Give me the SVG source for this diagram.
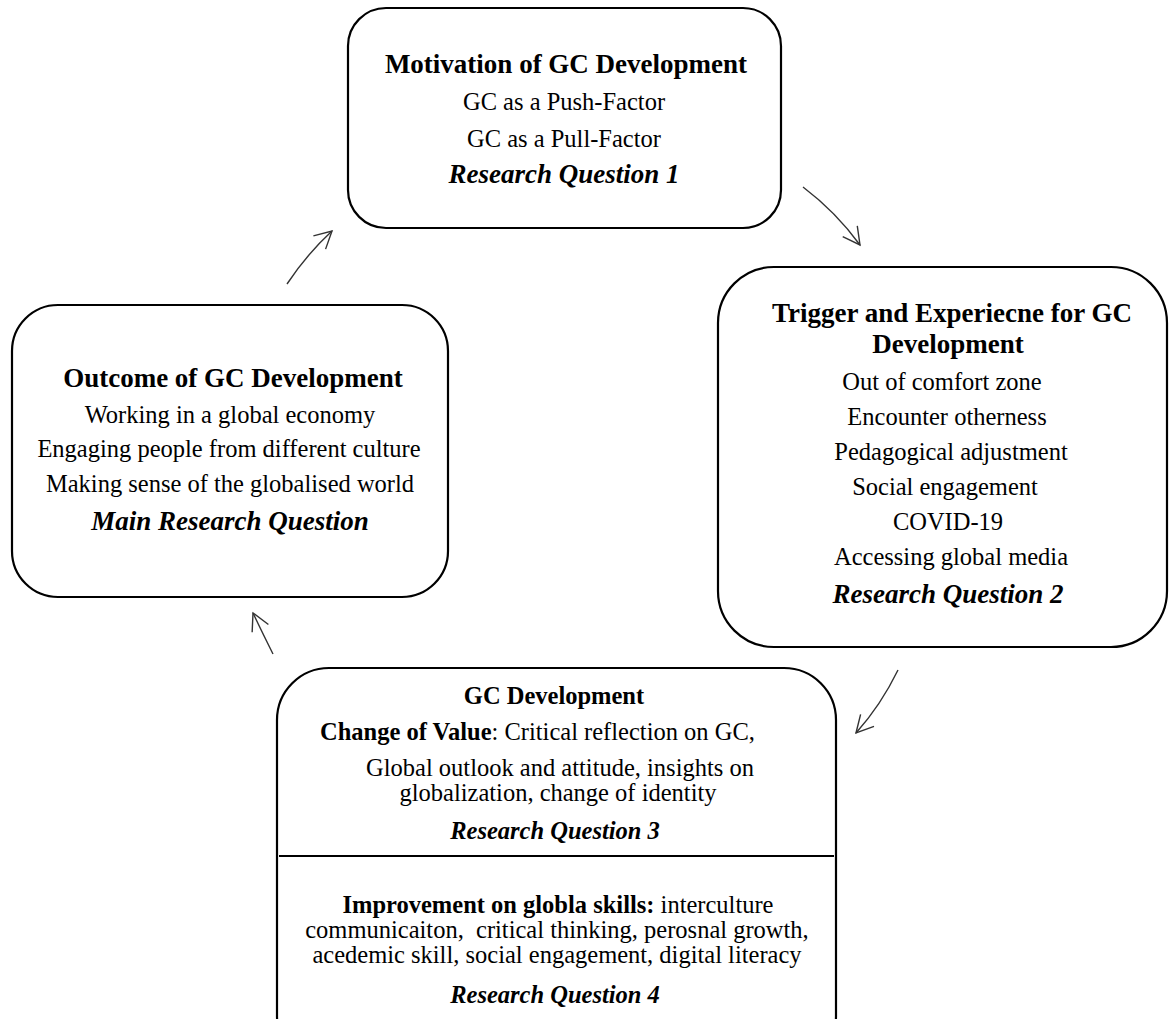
<svg xmlns="http://www.w3.org/2000/svg" width="1169" height="1019" viewBox="0 0 1169 1019">
<defs>
<style>
.box{fill:#fff;stroke:#000;stroke-width:2.2}
text{font-family:"Liberation Serif","Times New Roman",serif;fill:#000;text-anchor:middle}
.t{font-size:27px;font-weight:bold}
.r{font-size:24.5px}
.q{font-size:27px;font-weight:bold;font-style:italic}
.tb{font-size:24.5px;font-weight:bold}
.qb{font-size:24.5px;font-weight:bold;font-style:italic}
.b{font-weight:bold}
.conn{fill:none;stroke:#333;stroke-width:1.4}
</style>
<marker id="arr" viewBox="0 0 20 20" refX="18" refY="10" markerWidth="20" markerHeight="20" markerUnits="userSpaceOnUse" orient="auto">
<path d="M1,1 L18,10 L1,19" fill="none" stroke="#333" stroke-width="1.4"/>
</marker>
</defs>
<rect width="1169" height="1019" fill="#fff"/>

<g id="motivation">
<rect class="box" x="348" y="8" width="433" height="220" rx="38" ry="38"/>
<text class="t" x="566" y="73">Motivation of GC Development</text>
<text class="r" x="564" y="110">GC as a Push-Factor</text>
<text class="r" x="564" y="147">GC as a Pull-Factor</text>
<text class="q" x="564" y="183">Research Question 1</text>
</g>

<g id="trigger">
<rect class="box" x="718" y="267" width="449" height="380" rx="56" ry="56"/>
<text class="t" x="952" y="322">Trigger and Experiecne for GC</text>
<text class="t" x="948" y="353">Development</text>
<text class="r" x="942" y="390">Out of comfort zone</text>
<text class="r" x="947" y="425">Encounter otherness</text>
<text class="r" x="951" y="460">Pedagogical adjustment</text>
<text class="r" x="945" y="495">Social engagement</text>
<text class="r" x="948" y="530">COVID-19</text>
<text class="r" x="951" y="565">Accessing global media</text>
<text class="q" x="948" y="603">Research Question 2</text>
</g>

<g id="outcome">
<rect class="box" x="12" y="305" width="436" height="292" rx="46" ry="46"/>
<text class="t" x="233" y="387">Outcome of GC Development</text>
<text class="r" x="230" y="423">Working in a global economy</text>
<text class="r" x="229" y="457">Engaging people from different culture</text>
<text class="r" x="230" y="492">Making sense of the globalised world</text>
<text class="q" x="230" y="530">Main Research Question</text>
</g>

<g id="development">
<rect class="box" x="277" y="668" width="559" height="400" rx="52" ry="52"/>
<line x1="279" y1="856" x2="834" y2="856" stroke="#000" stroke-width="2"/>
<text class="tb" x="554" y="704">GC Development</text>
<text class="r" x="320" y="740" style="text-anchor:start"><tspan class="b">Change of Value</tspan>: Critical reflection on GC,</text>
<text class="r" x="560" y="776">Global outlook and attitude, insights on</text>
<text class="r" x="558" y="801">globalization, change of identity</text>
<text class="qb" x="555" y="839">Research Question 3</text>
<text class="r" x="558" y="913"><tspan class="b">Improvement on globla skills:</tspan> interculture</text>
<text class="r" x="557" y="938" xml:space="preserve">communicaiton,  critical thinking, perosnal growth,</text>
<text class="r" x="557" y="963">acedemic skill, social engagement, digital literacy</text>
<text class="qb" x="555" y="1003">Research Question 4</text>
</g>

<g id="connectors">
<path class="conn" d="M287,284 Q307,254 332,231" marker-end="url(#arr)"/>
<path class="conn" d="M803,187 Q836,212 860,245" marker-end="url(#arr)"/>
<path class="conn" d="M898,670 Q881,705 856,733" marker-end="url(#arr)"/>
<path class="conn" d="M273,654 Q262,632 253,613" marker-end="url(#arr)"/>
</g>
</svg>
